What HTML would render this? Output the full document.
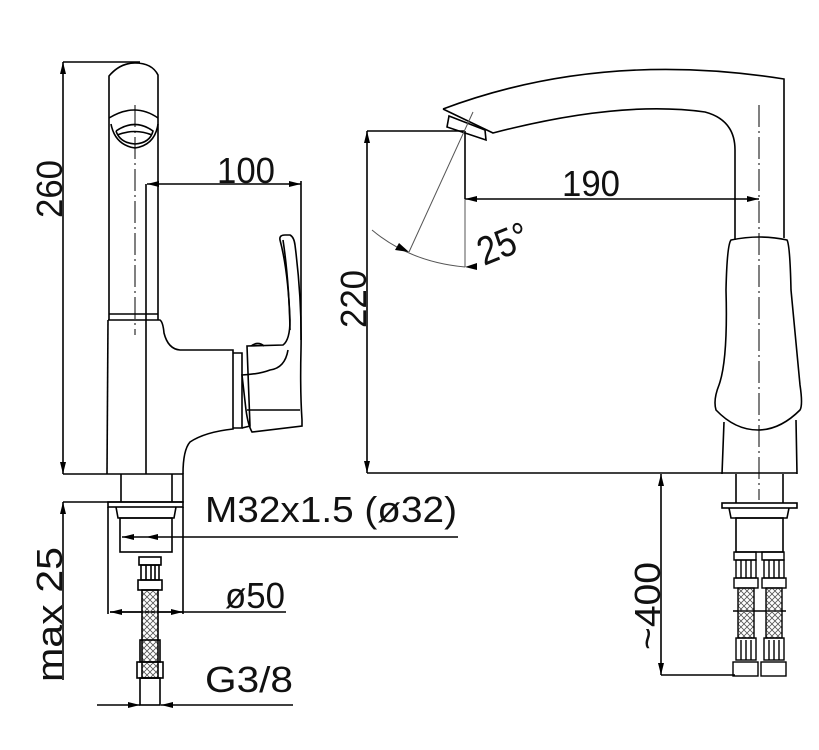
<!DOCTYPE html>
<html><head><meta charset="utf-8"><style>html,body{margin:0;padding:0;background:#fff}svg{display:block}text{font-family:"Liberation Sans",sans-serif;fill:#111}</style></head><body>
<svg width="819" height="750" viewBox="0 0 819 750" xmlns="http://www.w3.org/2000/svg">
<defs>
<marker id="a" viewBox="0 0 12 6" refX="12" refY="3" markerWidth="12" markerHeight="6" orient="auto-start-reverse" markerUnits="userSpaceOnUse"><path d="M0,0L12,3L0,6z" fill="#000"/></marker>
<pattern id="br" width="6" height="6" patternUnits="userSpaceOnUse"><path d="M0,0L6,6M6,0L0,6" stroke="#555" stroke-width="0.8"/></pattern>
</defs>
<g fill="none" stroke="#000" stroke-width="1.6">
<line x1="63" y1="62" x2="140" y2="62"/>
<line x1="63" y1="62" x2="63" y2="474" marker-start="url(#a)" marker-end="url(#a)"/>
<path d="M109,320 L109,76 Q120,63 135,63 Q152,63 158,75 L158,320"/>
<path d="M109,118 Q135,102 158,118 M111,124 Q115,145 135,148 Q155,145 158,124 M116,131 Q135,118 153,131 Q150,143 135,144 Q120,143 116,131 M117,135 Q135,128 152,135"/>
<line x1="146" y1="184" x2="146" y2="474"/>
<line x1="147" y1="184" x2="301" y2="184" marker-start="url(#a)" marker-end="url(#a)"/>
<line x1="301" y1="181" x2="301" y2="340"/>
<line x1="109" y1="314" x2="158" y2="314"/>
<path d="M108,320 L160,320 Q163,322 164,333 Q168,349 180,350 L233,350 L233,429 Q205,432 190,442 Q183,450 183,474"/>
<line x1="108" y1="320" x2="107" y2="474"/>
<path d="M233,353 L242,353 L242,428 L233,428"/>
<path d="M242,428 L250,426 L247,346 L283,345 Q290,340 290,320 Q288,270 280,240 Q279,235 285,235 L290,235 Q294,237 295,245 Q302,300 301,350 Q300,390 302,420 L302,426 L252,432 Q248,425 246,410 L242,375 Q260,374 270,370 Q285,368 288,350"/>
<path d="M283,240 Q289,280 290,330"/>
<line x1="247" y1="410" x2="300" y2="410"/>
<path d="M251,346 Q258,341 264,346"/>
<path d="M63,474 L183,474 L183,502 L63,502"/>
<line x1="121" y1="474" x2="121" y2="502"/><line x1="172" y1="474" x2="172" y2="502"/>
<rect x="108" y="502" width="75" height="5"/>
<path d="M116,507 L118,518 L174,518 L176,507"/>
<rect x="120" y="518" width="52" height="34"/>
<line x1="108" y1="507" x2="108" y2="614"/><line x1="183" y1="507" x2="183" y2="614"/>
<line x1="122" y1="537" x2="146" y2="537" marker-start="url(#a)"/>
<line x1="146" y1="537" x2="458" y2="537" marker-start="url(#a)"/>
<line x1="110" y1="612" x2="286" y2="612" marker-start="url(#a)"/>
<line x1="110" y1="612" x2="183" y2="612" marker-end="url(#a)"/>
<rect x="139" y="557" width="22" height="8"/><rect x="141" y="565" width="18" height="15"/>
<line x1="146" y1="565" x2="146" y2="580"/><line x1="151" y1="565" x2="151" y2="580"/><line x1="155" y1="565" x2="155" y2="580"/>
<rect x="138" y="580" width="24" height="10"/>
<rect x="142" y="590" width="16" height="88" fill="url(#br)"/>
<rect x="140" y="640" width="20" height="22"/>
<rect x="137" y="662" width="26" height="16"/>
<rect x="140" y="678" width="20" height="27"/>
<line x1="97" y1="705" x2="140" y2="705" marker-end="url(#a)"/>
<line x1="293" y1="705" x2="161" y2="705" marker-end="url(#a)"/>
<line x1="63" y1="680" x2="63" y2="502" marker-end="url(#a)"/>
<path d="M443,109 Q600,50 784,79 L784,238"/>
<path d="M443,109 L493,133 Q620,100 705,112 Q735,120 735,150 L735,240"/>
<path d="M449,116 L485,130 L486,140 L447,127 Z"/>
<path d="M731,240 Q760,234 787,240 Q790,245 791,290 L800,385 Q803,405 800,410 Q780,430 758,430 Q735,430 716,410 Q713,400 719,385 Q728,360 726,290 Q727,245 731,240 Z"/>
<path d="M724,422 L722,474 M796,420 L797,474"/>
<line x1="367" y1="131" x2="465" y2="131"/>
<line x1="367" y1="131" x2="367" y2="473" marker-start="url(#a)" marker-end="url(#a)"/>
<line x1="367" y1="473" x2="797" y2="473"/>
<line x1="465" y1="131" x2="465" y2="199"/>
<line x1="465" y1="199" x2="759" y2="199" marker-start="url(#a)" marker-end="url(#a)"/>
<line x1="736" y1="474" x2="736" y2="503"/><line x1="783" y1="474" x2="783" y2="503"/>
<rect x="722" y="503" width="75" height="5"/>
<path d="M729,508 L731,518 L787,518 L789,508"/>
<rect x="736" y="518" width="47" height="34"/>
<line x1="661" y1="675" x2="661" y2="474" marker-start="url(#a)" marker-end="url(#a)"/>
<line x1="661" y1="675" x2="735" y2="675"/>
<line x1="733" y1="611" x2="786" y2="611"/>
</g>
<g fill="none" stroke="#000" stroke-width="1.4">
<g id="h">
<rect x="734" y="552" width="22" height="8"/><rect x="736" y="560" width="20" height="18"/>
<line x1="741" y1="560" x2="741" y2="578"/><line x1="746" y1="560" x2="746" y2="578"/><line x1="751" y1="560" x2="751" y2="578"/>
<rect x="734" y="578" width="24" height="10"/>
<rect x="738" y="588" width="16" height="50" fill="url(#br)"/>
<rect x="736" y="638" width="20" height="22"/>
<line x1="741" y1="640" x2="741" y2="660"/><line x1="746" y1="640" x2="746" y2="660"/><line x1="751" y1="640" x2="751" y2="660"/>
<rect x="733" y="662" width="25" height="14"/>
</g>
<use href="#h" transform="translate(28,0)"/>
</g>
<g fill="none" stroke="#555" stroke-width="1">
<line x1="465" y1="199" x2="465" y2="267"/>
<path d="M372,230 Q410,262 465,267"/>
<line x1="473" y1="112" x2="409" y2="252"/>
</g>
<g fill="none" stroke="#000" stroke-width="1" stroke-dasharray="22,4,2,4">
<line x1="135" y1="105" x2="135" y2="335"/>
<line x1="146" y1="335" x2="146" y2="474"/>
<line x1="759" y1="105" x2="759" y2="500"/>
</g>
<path d="M409,252 L399,243 L395,250Z M465,267 L477,263 L477,270Z" fill="#000"/>
<text x="217" y="183" font-size="36" textLength="58" lengthAdjust="spacingAndGlyphs">100</text>
<text x="562" y="196" font-size="36" textLength="58" lengthAdjust="spacingAndGlyphs">190</text>
<text transform="translate(62,218) rotate(-90)" font-size="36" textLength="58" lengthAdjust="spacingAndGlyphs">260</text>
<text transform="translate(366,328) rotate(-90)" font-size="36" textLength="58" lengthAdjust="spacingAndGlyphs">220</text>
<text transform="translate(484,266) rotate(-22)" font-size="40" textLength="52" lengthAdjust="spacingAndGlyphs">25°</text>
<text x="205" y="522" font-size="36" textLength="252" lengthAdjust="spacingAndGlyphs">M32x1.5 (ø32)</text>
<text x="225" y="608" font-size="36" textLength="60" lengthAdjust="spacingAndGlyphs">ø50</text>
<text x="205" y="692" font-size="36" textLength="88" lengthAdjust="spacingAndGlyphs">G3/8</text>
<text transform="translate(62,682) rotate(-90)" font-size="36" textLength="135" lengthAdjust="spacingAndGlyphs">max 25</text>
<text transform="translate(660,650) rotate(-90)" font-size="36" textLength="88" lengthAdjust="spacingAndGlyphs">~400</text>
</svg>
</body></html>
